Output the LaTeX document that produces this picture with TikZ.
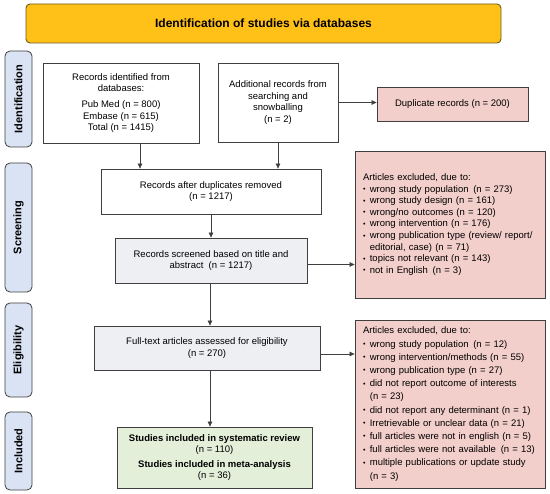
\documentclass[tikz,border=0pt]{standalone}
\usepackage{fontspec}
\setmainfont{Liberation Sans}
\usepackage{graphicx}
\usetikzlibrary{arrows.meta,calc}
\definecolor{titlefill}{HTML}{FFC118}
\definecolor{titledraw}{HTML}{6E5A1E}
\definecolor{sidefill}{HTML}{DAE3F3}
\definecolor{pinkfill}{HTML}{F3CFCB}
\definecolor{greyfill}{HTML}{EDEFF3}
\definecolor{greenfill}{HTML}{E3EFD9}
\definecolor{edge}{HTML}{3F3F3F}
\newcommand\bul{\makebox[0.72em][l]{\raisebox{0.1ex}{\scalebox{0.75}{•}}}}
\newcommand\ind{\hspace*{0.72em}}
\begin{document}
\begin{tikzpicture}[x=1pt,y=-1pt,
  font=\fontsize{9.5}{11.6}\selectfont,
  box/.style={draw=edge, line width=0.8pt, inner sep=0pt, align=center},
  whitebox/.style={box, fill=white},
  greybox/.style={box, fill=greyfill},
  pinkbox/.style={box, fill=pinkfill},
  greenbox/.style={box, fill=greenfill, font=\fontsize{9.5}{11.6}\selectfont\bfseries},
  sidebox/.style={draw=edge, line width=0.8pt, fill=sidefill, rounded corners=5pt, inner sep=0pt,
    font=\fontsize{11}{13}\selectfont\bfseries},
  arr/.style={draw=edge, line width=0.6pt, -{Triangle[length=5pt,width=4.5pt]}}
]
\useasboundingbox (0,0) rectangle (550,494);
\fill[white] (0,0) rectangle (550,494);

% title
\node[draw=titledraw, line width=0.9pt, fill=titlefill, rounded corners=4pt,
  minimum width=475pt, minimum height=39pt, inner sep=0pt,
  font=\fontsize{12}{14}\selectfont\bfseries] (title) at (263.5,23.5) {Identification of studies via databases};

% side labels
\node[sidebox, minimum width=96pt, minimum height=27pt, rotate=90] (sid) at (18.5,99) {Identification};
\node[sidebox, minimum width=129pt, minimum height=27pt, rotate=90] (sscr) at (18.5,227.5) {Screening};
\node[sidebox, minimum width=94pt, minimum height=27pt, rotate=90] (selig) at (18.5,350) {Eligibility};
\node[sidebox, minimum width=78pt, minimum height=27pt, rotate=90] (sinc) at (18.5,451) {Included};

% boxes
\node[whitebox, minimum width=156pt, minimum height=80pt] (rec) at (121,103)
  {Records identified from\\databases:\\[4.5pt]Pub Med (n = 800)\\Embase (n = 615)\\Total (n = 1415)};
\node[whitebox, minimum width=120pt, minimum height=79pt] (add) at (278,102.5)
  {Additional records from\\searching and\\snowballing\\(n = 2)};
\node[pinkbox, minimum width=151pt, minimum height=34pt] (dup) at (452.5,104)
  {Duplicate records (n = 200)};
\node[whitebox, minimum width=220pt, minimum height=45pt] (after) at (211,191.5)
  {Records after duplicates removed\\(n = 1217)};
\node[greybox, minimum width=192pt, minimum height=45pt] (scr) at (211,260.5)
  {Records screened based on title and\\abstract\ \ (n = 1217)};
\node[pinkbox, minimum width=190pt, minimum height=147pt, text width=174pt, align=left] (exc1) at (450,224.5)
  {Articles excluded, due to:\\
   \bul wrong study population\ \,(n = 273)\\
   \bul wrong study design (n = 161)\\
   \bul wrong/no outcomes (n = 120)\\
   \bul wrong intervention (n = 176)\\
   \bul wrong publication type (review/ report/\\
   \ind editorial, case) (n = 71)\\
   \bul topics not relevant (n = 143)\\
   \bul not in English\ \,(n = 3)};
\node[greybox, minimum width=226pt, minimum height=44pt] (full) at (207,348)
  {Full-text articles assessed for eligibility\\(n = 270)};
\node[pinkbox, minimum width=190pt, minimum height=168pt, text width=174pt, align=left,
  font=\fontsize{9.5}{13.2}\selectfont] (exc2) at (450,404)
  {Articles excluded, due to:\\
   \bul wrong study population\ \,(n = 12)\\
   \bul wrong intervention/methods (n = 55)\\
   \bul wrong publication type (n = 27)\\
   \bul did not report outcome of interests\\
   \ind (n = 23)\\
   \bul did not report any determinant (n = 1)\\
   \bul Irretrievable or unclear data (n = 21)\\
   \bul full articles were not in english (n = 5)\\
   \bul full articles were not available\ \,(n = 13)\\
   \bul multiple publications or update study\\
   \ind (n = 3)};
\node[greenbox, minimum width=195pt, minimum height=61pt] (inc) at (214.5,457.5)
  {Studies included in systematic review\\\mdseries(n = 110)\\[3pt]Studies included in meta-analysis\\\mdseries(n = 36)};

% connectors
\draw[arr] ([xshift=19pt]rec.south) -- ([xshift=19pt]rec.south |- after.north);
\draw[arr] (add.south) -- (add.south |- after.north);
\draw[arr] (add.east) -- (add.east -| dup.west);
\draw[arr] (after.south) -- (scr.north);
\draw[arr] ([yshift=-4pt]scr.east) -- ([yshift=-4pt]scr.east -| exc1.west);
\draw[arr] ([xshift=-1pt]scr.south) -- ([xshift=-1pt]scr.south |- full.north);
\draw[arr] ([yshift=-6pt]full.east) -- ([yshift=-6pt]full.east -| exc2.west);
\draw[arr] ([xshift=-1pt]scr.south |- full.south) -- ([xshift=-1pt]scr.south |- inc.north);
\end{tikzpicture}
\end{document}
